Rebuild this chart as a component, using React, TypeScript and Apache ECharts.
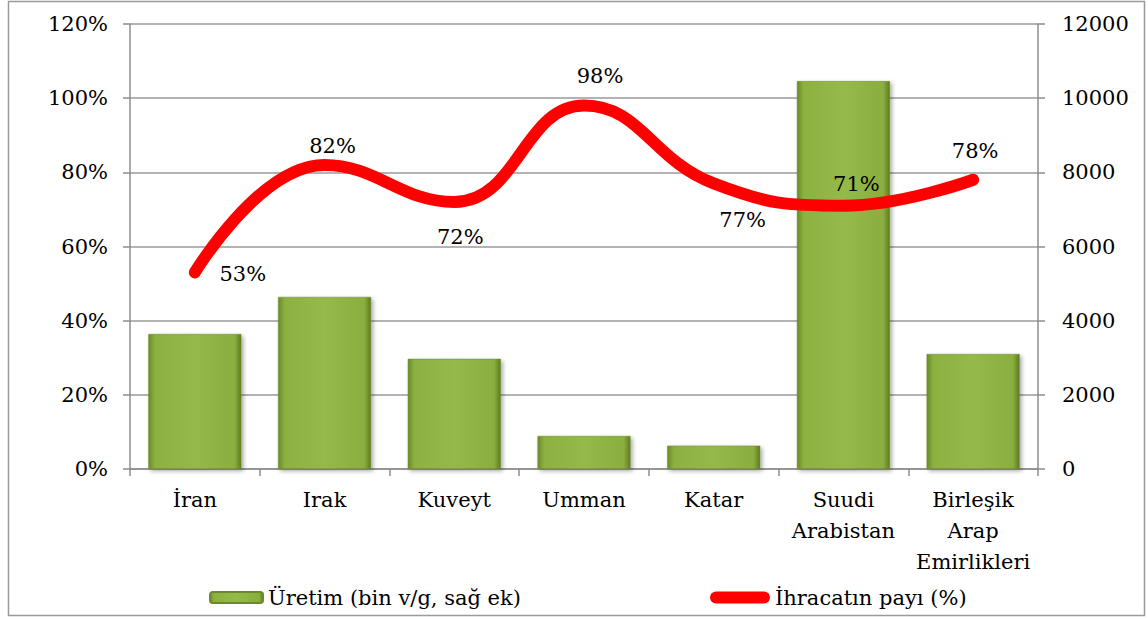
import React, { useEffect, useRef } from "react";
import * as echarts from "echarts";

const categories = ["İran", "Irak", "Kuveyt", "Umman", "Katar", "Suudi\nArabistan", "Birleşik\nArap\nEmirlikleri"];
const production = [3640, 4640, 2970, 890, 630, 10460, 3100];
const exportShare = [53, 82, 72, 98, 77, 71, 78];
const leftTicks = { min: 0, max: 120, interval: 20 };
const rightTicks = { min: 0, max: 12000, interval: 2000 };
const labelOffsets: [number, number][] = [
  [48, 2],
  [8, -19],
  [6, 35],
  [16, -30],
  [29, 37],
  [13, -22],
  [2, -29],
];

const FONT = "DejaVu Serif";
const FS = 21;

export default function App() {
  const ref = useRef<HTMLDivElement>(null);
  useEffect(() => {
    if (!ref.current) return;
    const chart = echarts.init(ref.current, null, { renderer: "svg" });
    const barColor = new echarts.graphic.LinearGradient(0, 0, 1, 0, [
      { offset: 0, color: "#6a8a27" },
      { offset: 0.07, color: "#8cb141" },
      { offset: 0.5, color: "#95ba4a" },
      { offset: 0.93, color: "#8aae3e" },
      { offset: 1, color: "#5e7b21" },
    ]);
    chart.setOption({
      animation: false,
      backgroundColor: "#ffffff",
      textStyle: { fontFamily: FONT },
      grid: { left: 130, right: 110, top: 24, bottom: 150 },
      graphic: [
        {
          type: "rect",
          shape: { x: 8.5, y: 1.5, width: 1136, height: 614 },
          style: { fill: "none", stroke: "#9a9a9a", lineWidth: 1.5 },
          silent: true,
        },
      ],
      legend: [
        {
          data: [{ name: "Üretim (bin v/g, sağ ek)" }],
          left: 204,
          top: 582,
          itemWidth: 53,
          itemHeight: 11,
          itemGap: 0,
          textStyle: { fontFamily: FONT, fontSize: FS, color: "#000" },
        },
        {
          data: [
            {
              name: "İhracatın payı (%)",
              icon: "path://M6,0 L54,0 A6,6 0 0 1 54,12 L6,12 A6,6 0 0 1 6,0 Z",
              itemStyle: { color: "#ff0000" },
            },
          ],
          left: 705,
          top: 582,
          itemWidth: 60,
          itemHeight: 12,
          textStyle: { fontFamily: FONT, fontSize: FS, color: "#000" },
        },
      ],
      xAxis: {
        type: "category",
        data: categories,
        axisLine: { lineStyle: { color: "#8c8c8c", width: 1.5 } },
        axisTick: { show: true, length: 7, lineStyle: { color: "#8c8c8c", width: 1.5 } },
        axisLabel: {
          fontFamily: FONT,
          fontSize: FS,
          color: "#000",
          lineHeight: 31,
          margin: 15,
          interval: 0,
        },
      },
      yAxis: [
        {
          type: "value",
          min: leftTicks.min,
          max: leftTicks.max,
          interval: leftTicks.interval,
          axisLine: { show: true, lineStyle: { color: "#8c8c8c", width: 1.5 } },
          axisTick: { show: true, length: 7, lineStyle: { color: "#8c8c8c", width: 1.5 } },
          splitLine: { show: true, lineStyle: { color: "#9a9a9a", width: 1.5 } },
          axisLabel: {
            formatter: "{value}%",
            fontFamily: FONT,
            fontSize: FS,
            color: "#000",
            margin: 22,
          },
        },
        {
          type: "value",
          position: "right",
          min: rightTicks.min,
          max: rightTicks.max,
          interval: rightTicks.interval,
          axisLine: { show: true, lineStyle: { color: "#8c8c8c", width: 1.5 } },
          axisTick: { show: true, length: 7, lineStyle: { color: "#8c8c8c", width: 1.5 } },
          splitLine: { show: false },
          axisLabel: {
            formatter: (v: number) => String(v),
            fontFamily: FONT,
            fontSize: FS,
            color: "#000",
            margin: 24,
          },
        },
      ],
      series: [
        {
          name: "Üretim (bin v/g, sağ ek)",
          type: "bar",
          yAxisIndex: 1,
          data: production,
          barWidth: 93,
          itemStyle: {
            color: barColor,
            borderColor: "#6b8a2a",
            borderWidth: 0.5,
            shadowColor: "rgba(0,0,0,0.35)",
            shadowBlur: 4,
            shadowOffsetX: 2,
            shadowOffsetY: 2,
          },
        },
        {
          name: "İhracatın payı (%)",
          type: "line",
          yAxisIndex: 0,
          data: exportShare.map((v, i) => ({
            value: v,
            label: { offset: labelOffsets[i] },
          })),
          smooth: 0.45,
          symbol: "circle",
          symbolSize: 1,
          showSymbol: true,
          itemStyle: { color: "#ff0000" },
          lineStyle: { color: "#ff0000", width: 12, cap: "round", join: "round" },
          label: {
            show: true,
            position: "inside",
            formatter: "{c}%",
            fontFamily: FONT,
            fontSize: FS,
            color: "#000",
          },
          z: 5,
        },
      ],
    });
    return () => chart.dispose();
  }, []);
  return (
    <div
      ref={ref}
      style={{ position: "fixed", left: 0, top: 0, width: 1148, height: 619 }}
    />
  );
}
